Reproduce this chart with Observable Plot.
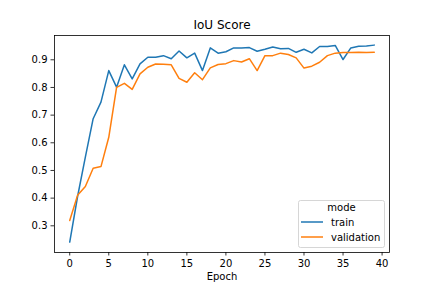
<!DOCTYPE html>
<html>
<head>
<meta charset="utf-8">
<script src="https://cdn.jsdelivr.net/npm/d3@7"></script>
<script src="https://cdn.jsdelivr.net/npm/@observablehq/plot@0.6"></script>
<style>
  html, body { margin: 0; padding: 0; background: #fff; }
  svg { font-family: "DejaVu Sans", sans-serif; }
</style>
</head>
<body>
<div id="chart"></div>
<script>
const title = "IoU Score";
const xLabel = "Epoch";
const legendTitle = "mode";
const seriesNames = ["train", "validation"];
const seriesColors = ["#1f77b4", "#ff7f0e"];
const epochs = [0,1,2,3,4,5,6,7,8,9,10,11,12,13,14,15,16,17,18,19,20,21,22,23,24,25,26,27,28,29,30,31,32,33,34,35,36,37,38,39];
const train = [0.241,0.405,0.548,0.687,0.747,0.861,0.801,0.882,0.831,0.885,0.909,0.909,0.915,0.904,0.932,0.907,0.924,0.861,0.943,0.924,0.929,0.943,0.943,0.944,0.931,0.938,0.946,0.940,0.941,0.927,0.938,0.925,0.948,0.948,0.952,0.901,0.943,0.949,0.950,0.953];
const validation = [0.319,0.410,0.442,0.508,0.514,0.620,0.800,0.815,0.793,0.849,0.873,0.885,0.884,0.882,0.833,0.819,0.853,0.828,0.871,0.883,0.886,0.897,0.892,0.904,0.861,0.915,0.915,0.924,0.919,0.907,0.870,0.877,0.891,0.915,0.924,0.926,0.926,0.927,0.926,0.927];
const xTicks = [0,5,10,15,20,25,30,35,40];
const yTicks = [0.3,0.4,0.5,0.6,0.7,0.8,0.9];

const rows = [];
epochs.forEach((e, i) => {
  rows.push({epoch: e, value: train[i], mode: seriesNames[0]});
  rows.push({epoch: e, value: validation[i], mode: seriesNames[1]});
});

const W = 432, H = 288;
const mL = 54, mR = 43, mT = 35, mB = 36;

const plot = Plot.plot({
  width: W,
  height: H,
  marginLeft: mL,
  marginRight: mR,
  marginTop: mT,
  marginBottom: mB,
  style: {fontFamily: "DejaVu Sans, sans-serif", fontSize: "10px", color: "#000", background: "#fff"},
  x: {domain: [-1.95, 40.95]},
  y: {domain: [0.2035, 0.9878]},
  color: {domain: seriesNames, range: seriesColors},
  marks: [
    Plot.lineY(rows, {x: "epoch", y: "value", stroke: "mode", strokeWidth: 1.5, z: "mode"}),
    Plot.frame({stroke: "#000", strokeWidth: 0.8}),
    Plot.axisX({ticks: xTicks, tickSize: 3.5, tickPadding: 3.5, tickFormat: d3.format("d"), fontSize: 10, label: xLabel, labelAnchor: "center", labelArrow: "none", labelOffset: 27, stroke: "#000", strokeWidth: 0.8}),
    Plot.axisY({ticks: yTicks, tickSize: 3.5, tickPadding: 3.5, tickFormat: d3.format(".1f"), fontSize: 10, label: null, stroke: "#000", strokeWidth: 0.8}),
    Plot.text([title], {frameAnchor: "top", lineAnchor: "middle", dy: -10, fontSize: 12, fill: "#000"})
  ]
});

document.getElementById("chart").appendChild(plot);

// Legend (matplotlib style, lower right)
const svg = d3.select(plot);
const bx = 298, by = 200, bw = 86, bh = 47;
const g = svg.append("g").attr("font-family", "DejaVu Sans, sans-serif").attr("font-size", 10).attr("text-anchor", "start");
g.append("rect").attr("x", bx + 0.5).attr("y", by + 0.5).attr("width", bw).attr("height", bh)
  .attr("rx", 2).attr("fill", "#fff").attr("fill-opacity", 0.8).attr("stroke", "#cccccc").attr("stroke-width", 0.8);
g.append("text").attr("x", bx + bw / 2 + 0.5).attr("y", by + 7).attr("dy", "0.35em").attr("text-anchor", "middle").attr("fill", "#000").text(legendTitle);
seriesNames.forEach((name, i) => {
  const yy = by + 22 + i * 15;
  g.append("line").attr("x1", bx + 3).attr("x2", bx + 25).attr("y1", yy).attr("y2", yy)
    .attr("stroke", seriesColors[i]).attr("stroke-width", 1.5);
  g.append("text").attr("x", bx + 33).attr("y", yy).attr("dy", "0.35em").attr("text-anchor", "start").attr("fill", "#000").text(name);
});
</script>
</body>
</html>
